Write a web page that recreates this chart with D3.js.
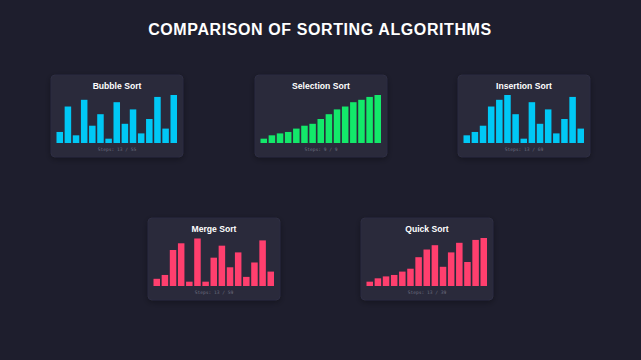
<!DOCTYPE html>
<html>
<head>
<meta charset="utf-8">
<script src="https://cdn.jsdelivr.net/npm/d3@7/dist/d3.min.js"></script>
<style>
  html, body { margin: 0; padding: 0; background: #1e1e2d; }
  svg { display: block; }
</style>
</head>
<body>
<svg id="chart" width="641" height="360"></svg>
<script>
const chartTitle = "COMPARISON OF SORTING ALGORITHMS";
const algorithms = ["Bubble Sort", "Selection Sort", "Insertion Sort", "Merge Sort", "Quick Sort"];
const stepLabels = ["Steps: 13 / 55", "Steps: 9 / 9", "Steps: 13 / 69", "Steps: 13 / 59", "Steps: 13 / 39"];
const bubbleValues    = [23, 76, 16, 90, 36, 60, 9, 85, 40, 70, 20, 50, 96, 30, 100];
const selectionValues = [9, 16, 20, 23, 30, 36, 40, 50, 60, 70, 76, 85, 90, 96, 100];
const insertionValues = [16, 23, 36, 76, 90, 100, 60, 9, 85, 40, 70, 20, 50, 96, 30];
const mergeValues     = [15, 23, 75, 89, 9, 99, 9, 59, 84, 39, 70, 19, 49, 95, 30];
const quickValues     = [9, 16, 20, 23, 30, 36, 60, 76, 85, 40, 70, 90, 50, 96, 100];
const barColors = ["#00c8f5", "#13e86a", "#00c8f5", "#ff3f6e", "#ff3f6e"];

const seriesList = [bubbleValues, selectionValues, insertionValues, mergeValues, quickValues];

// layout
const cardW = 132, cardH = 82;
const cardPos = [[51, 75], [255, 75], [458, 75], [148, 218], [361, 218]];
const padL = 5.5, padR = 6;
const plotTop = 20, plotBottom = 68;

const svg = d3.select("#chart");

const defs = svg.append("defs");
const f = defs.append("filter").attr("id", "shadow").attr("x", "-20%").attr("y", "-20%").attr("width", "140%").attr("height", "150%");
f.append("feDropShadow").attr("dx", 0).attr("dy", 2).attr("stdDeviation", 3).attr("flood-color", "#000").attr("flood-opacity", 0.35);

svg.append("text")
  .attr("x", 320).attr("y", 35)
  .attr("text-anchor", "middle")
  .attr("fill", "#ffffff")
  .attr("font-family", "Liberation Sans, Arial, sans-serif")
  .attr("font-weight", "bold")
  .attr("font-size", 16)
  .attr("letter-spacing", 0.6)
  .text(chartTitle);

const x = d3.scaleBand().domain(d3.range(15)).range([padL, cardW - padR]).paddingInner(0.2);
const y = d3.scaleLinear().domain([0, 100]).range([plotBottom, plotTop]);

algorithms.forEach((name, i) => {
  const g = svg.append("g").attr("transform", `translate(${cardPos[i][0]},${cardPos[i][1]})`);
  g.append("rect")
    .attr("width", cardW).attr("height", cardH)
    .attr("rx", 4).attr("ry", 4)
    .attr("fill", "#2a2a3a")
    .attr("stroke", "#33334a").attr("stroke-width", 0.6)
    .attr("filter", "url(#shadow)");
  g.append("text")
    .attr("x", cardW / 2).attr("y", 14)
    .attr("text-anchor", "middle")
    .attr("fill", "#ffffff")
    .attr("font-family", "Liberation Sans, Arial, sans-serif")
    .attr("font-weight", "bold")
    .attr("font-size", 8.6)
    .text(name);
  g.selectAll("rect.bar")
    .data(seriesList[i])
    .join("rect")
    .attr("class", "bar")
    .attr("x", (d, j) => x(j))
    .attr("width", x.bandwidth())
    .attr("y", d => y(d))
    .attr("height", d => y(0) - y(d))
    .attr("fill", barColors[i]);
  g.append("text")
    .attr("x", cardW / 2).attr("y", 76)
    .attr("text-anchor", "middle")
    .attr("fill", "#6e6e80")
    .attr("font-family", "DejaVu Sans Mono, Liberation Mono, monospace")
    .attr("font-size", 4.6)
    .text(stepLabels[i]);
});
</script>
</body>
</html>
